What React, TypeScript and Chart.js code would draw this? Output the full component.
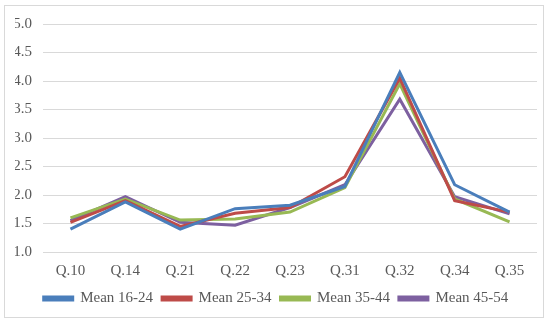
import React, { useEffect, useRef } from "react";
import { Chart, registerables } from "chart.js";

Chart.register(...registerables);

const categories = ["Q.10", "Q.14", "Q.21", "Q.22", "Q.23", "Q.31", "Q.32", "Q.34", "Q.35"];
const mean1624 = [1.4, 1.88, 1.4, 1.76, 1.82, 2.15, 4.15, 2.18, 1.7];
const mean2534 = [1.52, 1.9, 1.45, 1.68, 1.78, 2.32, 4.05, 1.9, 1.7];
const mean3544 = [1.6, 1.93, 1.56, 1.58, 1.7, 2.13, 3.95, 1.93, 1.53];
const mean4554 = [1.55, 1.97, 1.52, 1.47, 1.78, 2.18, 3.68, 1.97, 1.67];
const seriesNames = ["Mean 16-24", "Mean 25-34", "Mean 35-44", "Mean 45-54"];
const colors = ["#4A7EBB", "#BE4B48", "#98B954", "#7D60A0"];

export default function App() {
  const ref = useRef<HTMLCanvasElement>(null);
  useEffect(() => {
    if (!ref.current) return;
    const data = [mean1624, mean2534, mean3544, mean4554];
    const font = "'Liberation Serif', 'DejaVu Serif', serif";
    const chart = new Chart(ref.current, {
      type: "line",
      data: {
        labels: categories,
        datasets: data.map((d, i) => ({
          label: seriesNames[i],
          data: d,
          borderColor: colors[i],
          backgroundColor: colors[i],
          borderWidth: 3,
          pointRadius: 0,
          tension: 0,
        })),
      },
      options: {
        animation: false,
        responsive: false,
        maintainAspectRatio: false,
        layout: { padding: { left: 15, right: 13, top: 24, bottom: 8 } },
        plugins: {
          tooltip: { enabled: false },
          legend: {
            position: "bottom",
            labels: {
              boxWidth: 29,
              boxHeight: 3,
              padding: 9,
              color: "#595959",
              font: { family: font, size: 15 },
            },
          },
        },
        scales: {
          x: {
            offset: true,
            grid: { display: false },
            border: { display: false },
            ticks: { color: "#595959", font: { family: font, size: 15 }, padding: 2 },
          },
          y: {
            min: 1,
            max: 5,
            afterFit: (s: any) => { s.width = 28; },
            grid: { color: "#D9D9D9", lineWidth: 1, drawTicks: false },
            border: { display: false },
            ticks: {
              stepSize: 0.5,
              color: "#595959",
              font: { family: font, size: 15 },
              padding: 11,
              callback: (v: any) => Number(v).toFixed(1),
            },
          },
        },
      },
    });
    return () => chart.destroy();
  }, []);
  return (
    <div style={{ position: "fixed", left: 0, top: 0, width: 550, height: 324, background: "#fff" }}>
      <div style={{ position: "absolute", left: 4, top: 5, width: 538, height: 311, border: "1px solid #D9D9D9" }} />
      <canvas ref={ref} width={550} height={324} style={{ position: "absolute", left: 0, top: 0 }} />
    </div>
  );
}
